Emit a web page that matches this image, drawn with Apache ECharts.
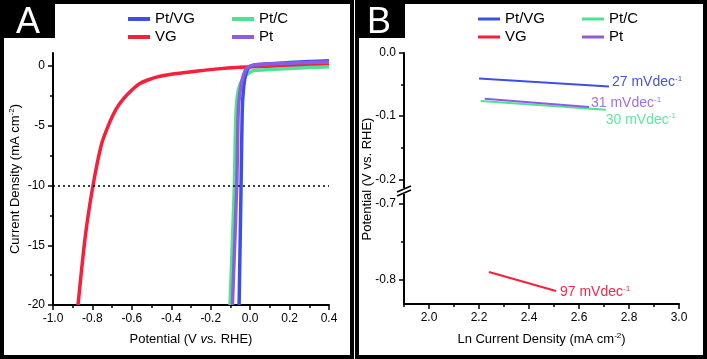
<!doctype html>
<html>
<head>
<meta charset="utf-8">
<title>HER polarization / Tafel</title>
<script src="https://cdn.jsdelivr.net/npm/echarts@6/dist/echarts.min.js"></script>
<style>
    html, body { margin: 0; padding: 0; background: #fff; }
    #main { width: 707px; height: 359px; }
</style>
</head>
<body>
<div id="main"></div>
<script>
// panel A: polarization curves, [potential (V vs RHE), current density (mA cm-2)]
var lsvVG = [[-0.873, -20], [-0.835, -14.1], [-0.797, -10], [-0.755, -6.6], [-0.72, -5], [-0.68, -3.6],
    [-0.643, -2.75], [-0.6, -2.0], [-0.559, -1.45], [-0.5, -1.05], [-0.457, -0.85], [-0.4, -0.68],
    [-0.34, -0.56], [-0.254, -0.39], [-0.178, -0.25], [-0.05, -0.1], [0.1, 0.0], [0.25, 0.05], [0.4, 0.1]];
var lsvPtC = [[-0.102, -20], [-0.08, -10], [-0.072, -4], [-0.06, -2], [-0.036, -1.03], [0.0, -0.5],
    [0.025, -0.35], [0.1, -0.28], [0.2, -0.2], [0.3, -0.12], [0.4, -0.05]];
var lsvPtVG = [[-0.056, -20], [-0.046, -10], [-0.04, -3.67], [-0.034, -2], [-0.025, -0.9], [-0.01, -0.2],
    [0.02, 0.1], [0.1, 0.2], [0.2, 0.3], [0.3, 0.38], [0.4, 0.45]];
var lsvPt = [[-0.09, -20], [-0.068, -10], [-0.06, -3.67], [-0.05, -2], [-0.035, -0.8], [-0.015, -0.15],
    [0.02, 0.1], [0.1, 0.18], [0.2, 0.25], [0.3, 0.3], [0.4, 0.35]];
var refLevel = -10;

// panel B: tafel fits, [ln current density, potential]
var tafelPtVG = [[2.2, -0.0405], [2.72, -0.053]];
var tafelPt = [[2.223, -0.0724], [2.64, -0.0855]];
var tafelPtC = [[2.207, -0.076], [2.707, -0.0898]];
var tafelVG = [[2.24, -0.7904], [2.508, -0.8154]];
var slopeLabels = { 'Pt/VG': '27', 'Pt': '31', 'Pt/C': '30', 'VG': '97' };

// ticks
var aXTicks = [-1, -0.8, -0.6, -0.4, -0.2, 0, 0.2, 0.4];
var aXMinor = [-0.9, -0.7, -0.5, -0.3, -0.1, 0.1, 0.3];
var aYTicks = [0, -5, -10, -15, -20];
var aYMinor = [-2.5, -7.5, -12.5, -17.5];
var bXTicks = [2.0, 2.2, 2.4, 2.6, 2.8, 3.0];
var bXMinor = [1.9, 2.1, 2.3, 2.5, 2.7, 2.9];
var bYTopTicks = [0, -0.1, -0.2];
var bYTopMinor = [-0.05, -0.15];
var bYBotTicks = [-0.7, -0.8];
var bYBotMinor = [-0.75];

var FONT = '"Liberation Sans", Arial, sans-serif';
var C = { ptvg: '#3d50e6', vg: '#f7203b', ptc: '#4de391', pt: '#8f5be0' };
var LBL = { ptvg: '#4455d5', vg: '#f52848', ptc: '#5fe8a0', pt: '#a36fe8' };

var myChart = echarts.init(document.getElementById('main'));

function majorAxis(grid, pos, min, max, ticks, fmt, extra) {
    var o = {
        type: 'value', gridIndex: grid, position: pos, min: min, max: max,
        axisLine: { show: true, onZero: false, lineStyle: { color: '#000', width: 2 } },
        axisTick: { show: true, inside: false, length: 5, customValues: ticks, lineStyle: { color: '#000', width: 1.5 } },
        axisLabel: { show: true, customValues: ticks, formatter: fmt, margin: 8, color: '#000', fontSize: 12, fontFamily: FONT },
        splitLine: { show: false }
    };
    for (var k in extra) o[k] = extra[k];
    return o;
}
function minorAxis(grid, pos, min, max, ticks) {
    return {
        type: 'value', gridIndex: grid, position: pos, min: min, max: max,
        axisLine: { show: false, onZero: false },
        axisTick: { show: true, inside: false, length: 3, customValues: ticks, lineStyle: { color: '#000', width: 1.5 } },
        axisLabel: { show: false },
        splitLine: { show: false }
    };
}
function fix1(v) { return v.toFixed(1); }
function legendCol(left, names, h) {
    return {
        left: left, top: 6, orient: 'vertical', data: names, icon: 'rect', selectedMode: false,
        itemWidth: 22, itemHeight: h, itemGap: 2,
        textStyle: { fontSize: 15, lineHeight: 16, color: '#000', fontFamily: FONT }
    };
}
function supRich(color) {
    return { s: { fontSize: 8, padding: [0, 0, 7, 0], color: color, fontFamily: FONT } };
}
function tafelLabel(name, color, offset) {
    return {
        show: true, distance: 2, offset: offset, color: color, fontSize: 14, fontFamily: FONT,
        formatter: slopeLabels[name] + ' mVdec{s|-1}', rich: supRich(color)
    };
}

var nameStyle = {
    color: '#000', fontSize: 13, fontFamily: FONT,
    rich: { s: { fontSize: 8, padding: [0, 0, 7, 0], color: '#000', fontFamily: FONT },
            i: { fontSize: 13, fontStyle: 'italic', color: '#000', fontFamily: FONT } }
};

var option = {
    animation: false,
    textStyle: { fontFamily: FONT },
    grid: [
        { left: 53, right: 378, top: 53, bottom: 54 },
        { left: 404, right: 28, top: 53, height: 135 },
        { left: 404, right: 28, top: 194, height: 110 }
    ],
    legend: [
        legendCol(123, ['Pt/VG', 'VG'], 4),
        legendCol(227, ['Pt/C', 'Pt'], 4),
        legendCol(473, ['Pt/VG', 'VG'], 3),
        legendCol(577, ['Pt/C', 'Pt'], 3)
    ],
    xAxis: [
        majorAxis(0, 'bottom', -1, 0.4, aXTicks, fix1,
            { name: 'Potential (V {i|vs.} RHE)', nameLocation: 'middle', nameGap: 28, nameTextStyle: nameStyle }),
        minorAxis(0, 'bottom', -1, 0.4, aXMinor),
        { type: 'value', gridIndex: 1, min: 1.9, max: 3.0, show: false },
        majorAxis(2, 'bottom', 1.9, 3.0, bXTicks, fix1,
            { name: 'Ln Current Density (mA cm{s|-2})', nameLocation: 'middle', nameGap: 28, nameTextStyle: nameStyle }),
        minorAxis(2, 'bottom', 1.9, 3.0, bXMinor)
    ],
    yAxis: [
        majorAxis(0, 'left', -20, 1.1, aYTicks, function (v) { return String(Math.round(v)); },
            { name: 'Current Density (mA cm{s|-2})', nameLocation: 'middle', nameGap: 30, nameTextStyle: nameStyle }),
        minorAxis(0, 'left', -20, 1.1, aYMinor),
        majorAxis(1, 'left', -0.2138, 0, bYTopTicks, fix1, {}),
        minorAxis(1, 'left', -0.2138, 0, bYTopMinor),
        majorAxis(2, 'left', -0.8325, -0.6878, bYBotTicks, fix1, {}),
        minorAxis(2, 'left', -0.8325, -0.6878, bYBotMinor)
    ],
    series: [
        { name: 'VG', type: 'line', xAxisIndex: 0, yAxisIndex: 0, data: lsvVG, smooth: 0.3, showSymbol: false,
          lineStyle: { width: 3.5, color: C.vg }, itemStyle: { color: C.vg },
          markLine: { silent: true, symbol: 'none', label: { show: false },
                      lineStyle: { type: [2, 3], color: '#000', width: 1.5 }, data: [{ yAxis: refLevel }] } },
        { name: 'Pt/C', type: 'line', xAxisIndex: 0, yAxisIndex: 0, data: lsvPtC, smooth: 0.3, showSymbol: false,
          lineStyle: { width: 3.5, color: C.ptc }, itemStyle: { color: C.ptc } },
        { name: 'Pt/VG', type: 'line', xAxisIndex: 0, yAxisIndex: 0, data: lsvPtVG, smooth: 0.3, showSymbol: false,
          lineStyle: { width: 3.5, color: C.ptvg }, itemStyle: { color: C.ptvg } },
        { name: 'Pt', type: 'line', xAxisIndex: 0, yAxisIndex: 0, data: lsvPt, smooth: 0.3, showSymbol: false,
          lineStyle: { width: 3.5, color: C.pt }, itemStyle: { color: C.pt } },

        { name: 'Pt/VG', type: 'line', xAxisIndex: 2, yAxisIndex: 2, data: tafelPtVG, showSymbol: false,
          lineStyle: { width: 2, color: C.ptvg }, itemStyle: { color: C.ptvg },
          endLabel: tafelLabel('Pt/VG', LBL.ptvg, [1, -4]) },
        { name: 'Pt/C', type: 'line', xAxisIndex: 2, yAxisIndex: 2, data: tafelPtC, showSymbol: false,
          lineStyle: { width: 2, color: C.ptc }, itemStyle: { color: C.ptc },
          endLabel: tafelLabel('Pt/C', LBL.ptc, [-2, 10]) },
        { name: 'Pt', type: 'line', xAxisIndex: 2, yAxisIndex: 2, data: tafelPt, showSymbol: false,
          lineStyle: { width: 2, color: C.pt }, itemStyle: { color: C.pt },
          endLabel: tafelLabel('Pt', LBL.pt, [0, -4]) },
        { name: 'VG', type: 'line', xAxisIndex: 3, yAxisIndex: 4, data: tafelVG, showSymbol: false,
          lineStyle: { width: 2, color: C.vg }, itemStyle: { color: C.vg },
          endLabel: tafelLabel('VG', LBL.vg, [2, 1]) }
    ],
    graphic: [
        // panel frames
        { type: 'rect', z: 100, shape: { x: 2, y: 2, width: 350, height: 355 }, style: { fill: 'none', stroke: '#000', lineWidth: 4 } },
        { type: 'rect', z: 100, shape: { x: 357, y: 2, width: 348, height: 355 }, style: { fill: 'none', stroke: '#000', lineWidth: 4 } },
        // panel tags
        { type: 'rect', z: 100, shape: { x: 0, y: 0, width: 55, height: 38 }, style: { fill: '#000' } },
        { type: 'text', z: 101, x: 28, y: 23, style: { text: 'A', fill: '#fff', font: '36px ' + FONT, align: 'center', verticalAlign: 'middle', textAlign: 'center', textVerticalAlign: 'middle' } },
        { type: 'rect', z: 100, shape: { x: 355, y: 0, width: 50, height: 38 }, style: { fill: '#000' } },
        { type: 'text', z: 101, x: 379, y: 23, style: { text: 'B', fill: '#fff', font: '36px ' + FONT, align: 'center', verticalAlign: 'middle', textAlign: 'center', textVerticalAlign: 'middle' } },
        // panel B y title (spans both broken segments)
        { type: 'text', z: 50, x: 367, y: 179, rotation: Math.PI / 2,
          style: { text: 'Potential (V vs. RHE)', fill: '#000', font: '13px ' + FONT, align: 'center', verticalAlign: 'middle', textAlign: 'center', textVerticalAlign: 'middle' } },
        // axis break marks
        { type: 'rect', z: 60, shape: { x: 400, y: 188, width: 7, height: 6 }, style: { fill: '#fff' } },
        { type: 'line', z: 61, shape: { x1: 397, y1: 192, x2: 411, y2: 186 }, style: { stroke: '#000', lineWidth: 1.5 } },
        { type: 'line', z: 61, shape: { x1: 397, y1: 196, x2: 411, y2: 190 }, style: { stroke: '#000', lineWidth: 1.5 } }
    ]
};

myChart.setOption(option);
</script>
</body>
</html>
